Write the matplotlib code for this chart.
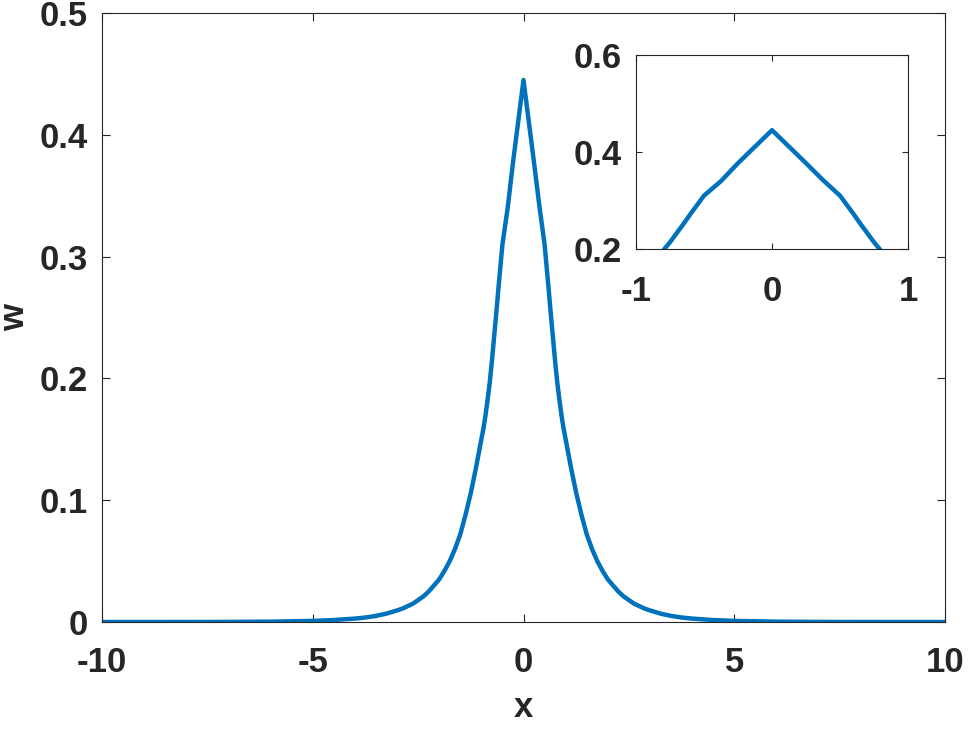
import matplotlib
matplotlib.use("Agg")
import matplotlib.pyplot as plt
import numpy as np

# Data (both sides listed explicitly)
x_vals = [-10.0, -8.0, -7.0, -6.0, -5.0, -4.5, -4.0, -3.75, -3.5, -3.25, -3.0, -2.875,
          -2.75, -2.625, -2.5, -2.375, -2.25, -2.125, -2.0, -1.875, -1.75, -1.625,
          -1.5, -1.375, -1.25, -1.125, -1.0, -0.95, -0.9, -0.85, -0.8, -0.75, -0.7,
          -0.65, -0.6, -0.55, -0.5, -0.375, -0.25, 0.0,
          0.25, 0.375, 0.5, 0.55, 0.6, 0.65, 0.7, 0.75, 0.8, 0.85, 0.9, 0.95, 1.0, 1.125,
          1.25, 1.375, 1.5, 1.625, 1.75, 1.875, 2.0, 2.125, 2.25, 2.375, 2.5, 2.625,
          2.75, 2.875, 3.0, 3.25, 3.5, 3.75, 4.0, 4.5, 5.0, 6.0, 7.0, 8.0, 10.0]
w_vals = [0.0, 0.00003, 0.0001, 0.0003, 0.0009, 0.0016, 0.0028, 0.0037, 0.0050, 0.0069,
          0.0095, 0.011, 0.013, 0.015, 0.018, 0.021, 0.025, 0.030, 0.035, 0.042, 0.050,
          0.060, 0.072, 0.088, 0.106, 0.127, 0.150, 0.159, 0.170, 0.183, 0.197, 0.214,
          0.233, 0.252, 0.272, 0.291, 0.310, 0.340, 0.377, 0.445,
          0.377, 0.342, 0.310, 0.291, 0.272, 0.252, 0.233, 0.214, 0.197, 0.183, 0.170, 0.159,
          0.150, 0.127, 0.106, 0.088, 0.072, 0.060, 0.050, 0.042, 0.035, 0.030, 0.025,
          0.021, 0.018, 0.015, 0.013, 0.011, 0.0095, 0.0069, 0.0050, 0.0037, 0.0028,
          0.0016, 0.0009, 0.0003, 0.0001, 0.00003, 0.0]

main_xticks = [-10, -5, 0, 5, 10]
main_yticks = [0, 0.1, 0.2, 0.3, 0.4, 0.5]
inset_xticks = [-1, 0, 1]
inset_yticks = [0.2, 0.4, 0.6]

plt.rcParams['font.family'] = ['Liberation Sans', 'DejaVu Sans']
plt.rcParams['font.weight'] = 'bold'

line_color = '#0072BD'
axis_color = '#262626'
fs = 25

fig = plt.figure(figsize=(9.69, 7.29), dpi=100)
W, H = 969, 729

def style(ax, ticklen, pad_x, pad_y):
    for s in ax.spines.values():
        s.set_color(axis_color)
        s.set_linewidth(0.8)
    ax.tick_params(direction='in', top=True, right=True, length=ticklen,
                   width=0.8, color=axis_color, labelcolor=axis_color,
                   labelsize=fs)
    ax.tick_params(axis='x', pad=pad_x)
    ax.tick_params(axis='y', pad=pad_y)
    for lab in ax.get_xticklabels() + ax.get_yticklabels():
        lab.set_fontweight('bold')

# Main axes
ax = fig.add_axes([102 / W, 1 - 622 / H, (945 - 102) / W, (622 - 13) / H])
ax.plot(x_vals, w_vals, color=line_color, linewidth=3.2, solid_joinstyle='round',
        solid_capstyle='butt')
ax.set_xlim(-10, 10)
ax.set_ylim(0, 0.5)
ax.set_xticks(main_xticks)
ax.set_xticklabels([f"{t:g}" for t in main_xticks])
ax.set_yticks(main_yticks)
ax.set_yticklabels([f"{t:g}" for t in main_yticks])
style(ax, 6, 17, 10)
ax.set_xlabel('x', fontsize=fs, fontweight='bold', color=axis_color, labelpad=9)
ax.set_ylabel('w', fontsize=fs, fontweight='bold', color=axis_color, labelpad=6)

# Inset axes
axi = fig.add_axes([636 / W, 1 - 249 / H, (908 - 636) / W, (249 - 55) / H])
axi.plot(x_vals, w_vals, color=line_color, linewidth=3.2, solid_joinstyle='round',
         solid_capstyle='butt')
axi.set_xlim(-1, 1)
axi.set_ylim(0.2, 0.6)
axi.set_xticks(inset_xticks)
axi.set_xticklabels([f"{t:g}" for t in inset_xticks])
axi.set_yticks(inset_yticks)
axi.set_yticklabels([f"{t:g}" for t in inset_yticks])
style(axi, 4, 19, 10)

fig.savefig('out.png', dpi=100)
